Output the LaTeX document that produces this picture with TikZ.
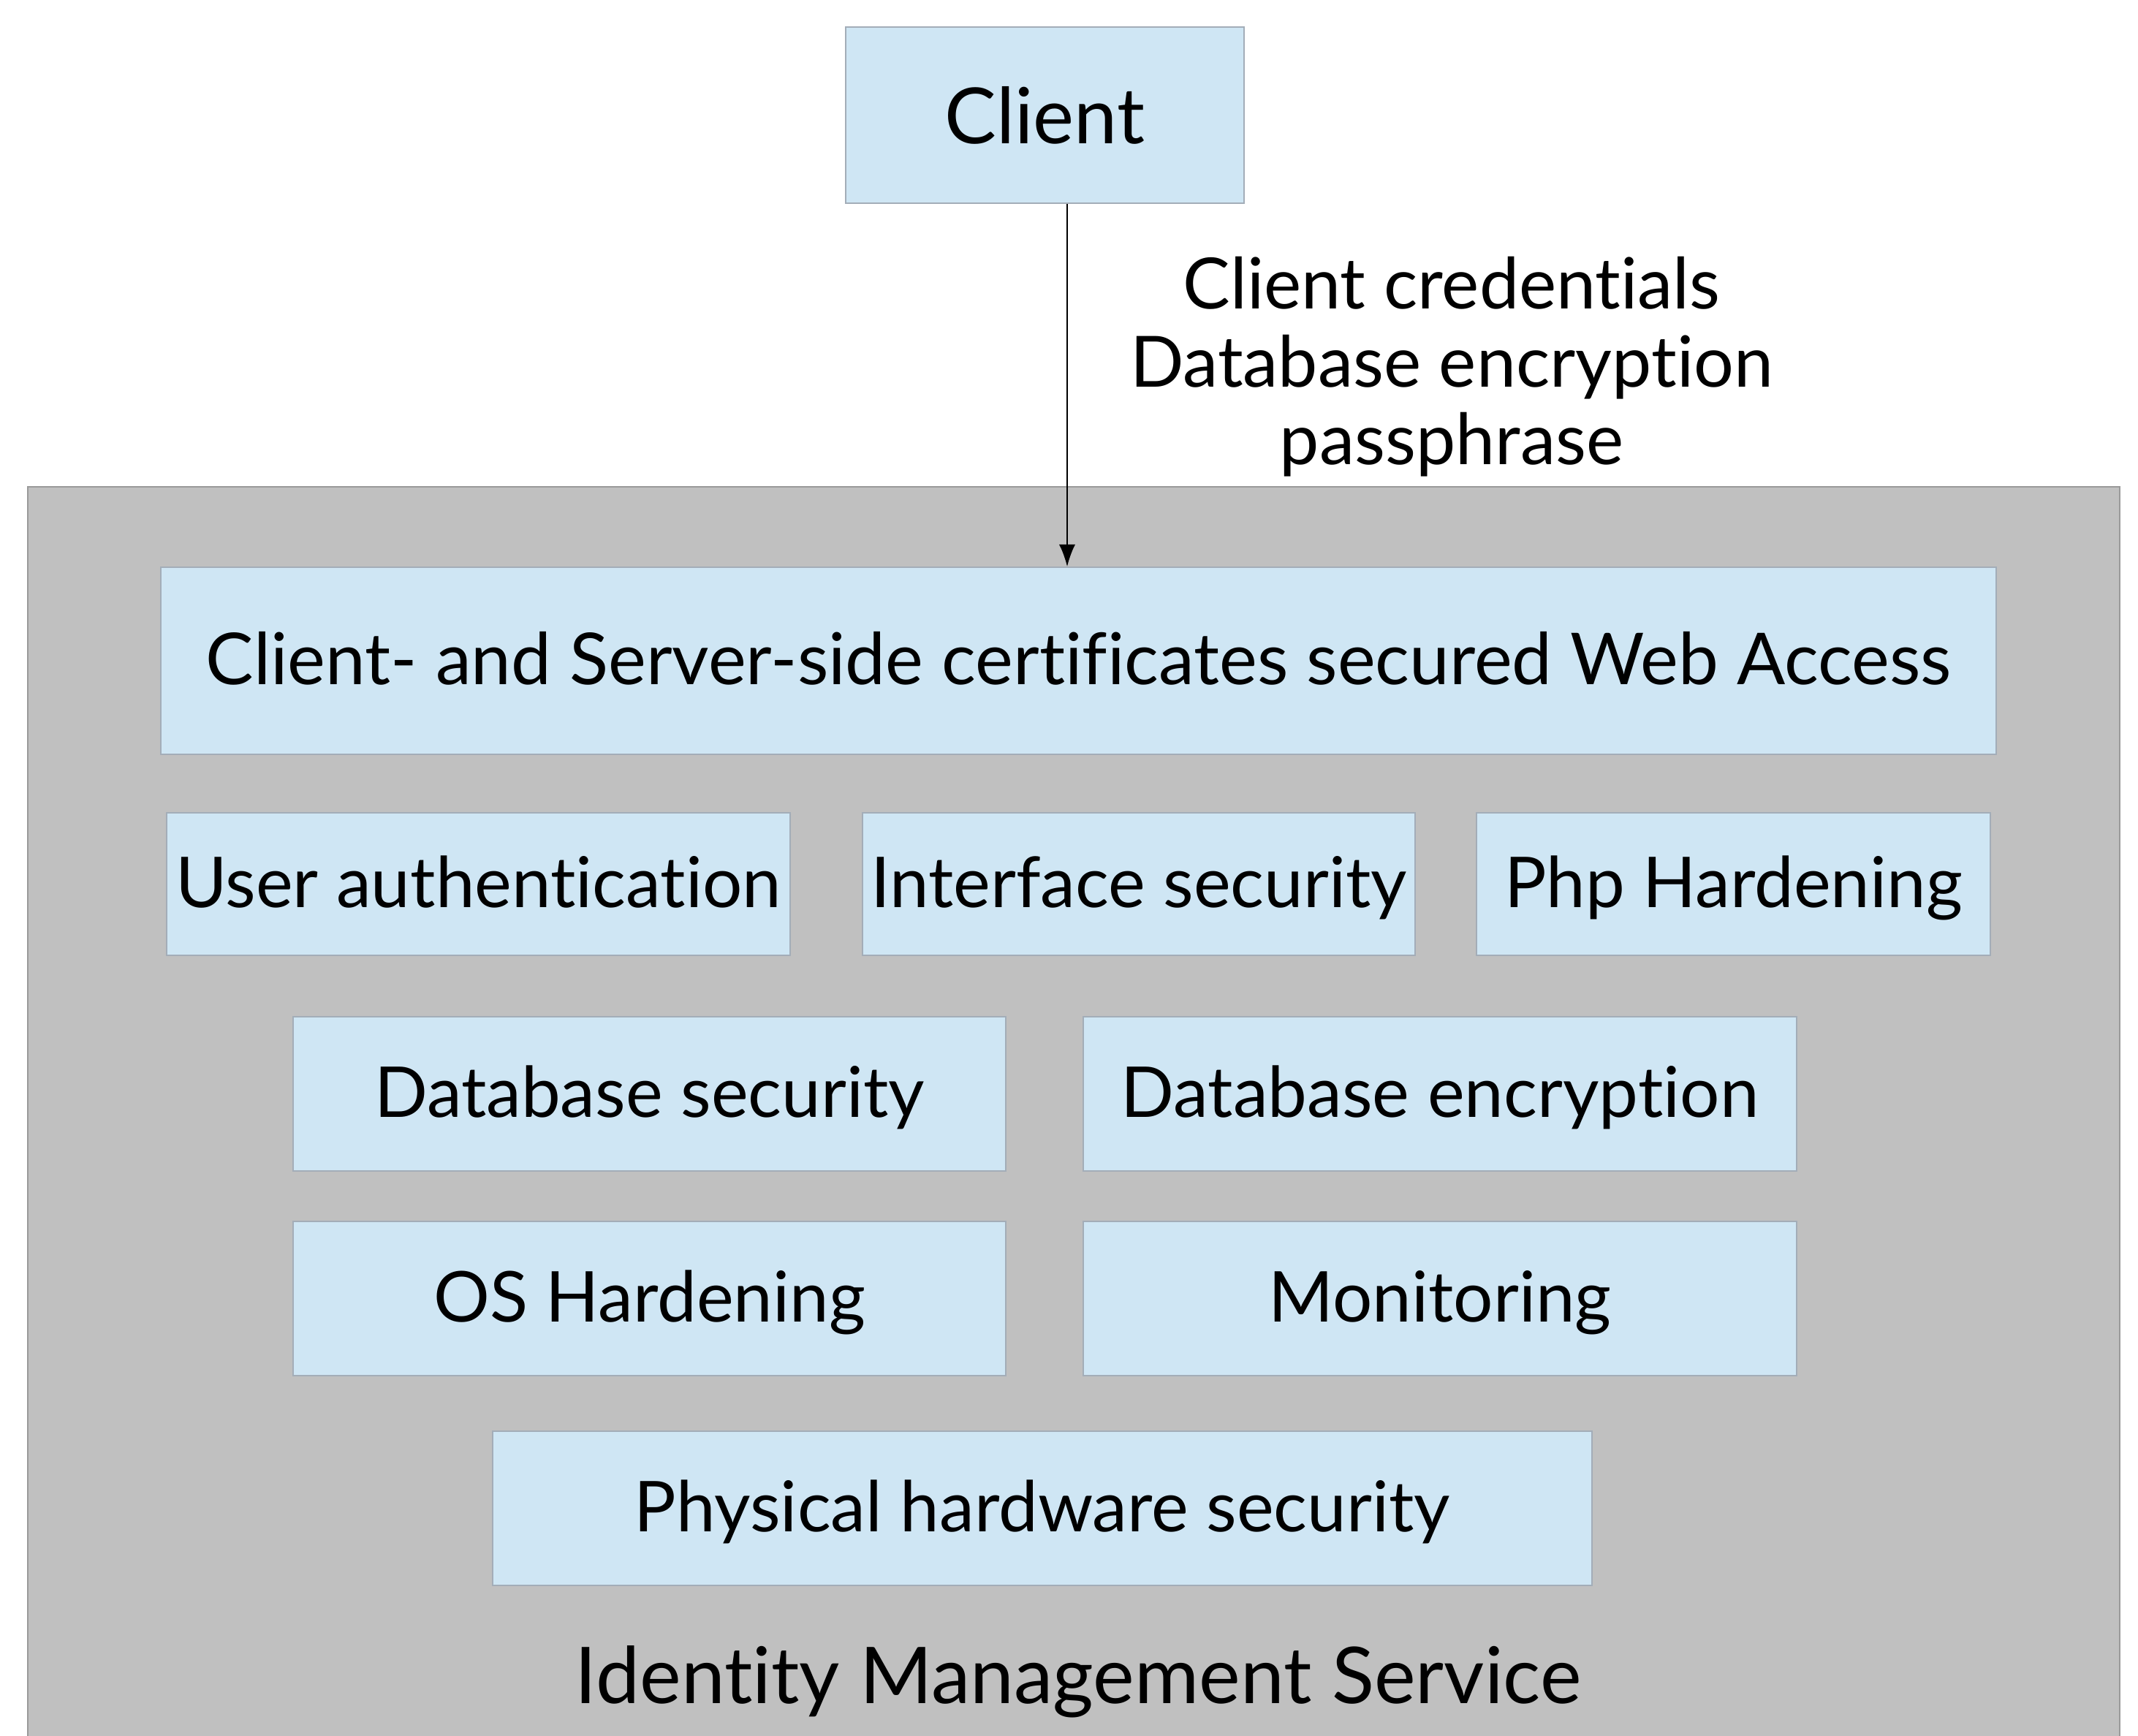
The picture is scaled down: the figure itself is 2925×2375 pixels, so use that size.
\documentclass[tikz,border=0pt]{standalone}
\usepackage{fontspec}
\setmainfont{Lato}[Ligatures={NoCommon,NoRare}]
\usetikzlibrary{arrows.meta}
\definecolor{boxfill}{HTML}{CFE6F4}
\definecolor{boxline}{HTML}{A3ADB8}
\definecolor{contfill}{HTML}{C0C0C0}
\definecolor{contline}{HTML}{9A9A9A}
\tikzset{
  secbox/.style={draw=boxline, fill=boxfill, line width=0.5pt, inner sep=0pt,
    font=\fontsize{24}{28}\selectfont, text=black, text height=20pt, text depth=4pt},
}
\newcommand{\bx}[6]{\node[secbox, minimum width=#4*0.25pt, minimum height=#5*0.25pt] (#1) at (#2,#3) {#6};}
\begin{document}
\begin{tikzpicture}[x=0.25pt,y=-0.25pt]
\useasboundingbox (0,0) rectangle (2925,2375);
\fill[white] (0,0) rectangle (2925,2375);
\node[draw=contline, fill=contfill, line width=0.5pt, inner sep=0pt, minimum width=2862*0.25pt, minimum height=1760*0.25pt, anchor=north west] (cont) at (37,665) {};
\node[secbox, minimum width=545*0.25pt, minimum height=241*0.25pt, font=\fontsize{26.5}{30}\selectfont, text height=19.5pt, text depth=0pt] (client) at (1429.5,157.5) {Client};
\node[secbox, minimum width=2511*0.25pt, minimum height=256*0.25pt, font=\fontsize{24.5}{28}\selectfont] (web) at (1475.5,904) {Client- and Server-side certificates secured Web Access};
\bx{ua}{654.5}{1209.5}{853}{195}{User authentication}
\bx{is}{1558}{1209.5}{756}{195}{Interface security}
\bx{ph}{2371.5}{1209.5}{703}{195}{Php Hardening}
\bx{ds}{888.5}{1496.5}{975}{211}{Database security}
\bx{de}{1970}{1496.5}{976}{211}{Database encryption}
\bx{os}{888.5}{1776.5}{975}{211}{OS Hardening}
\bx{mon}{1970}{1776.5}{976}{211}{Monitoring}
\bx{phys}{1426}{2063.5}{1504}{211}{Physical hardware security}
\node[font=\fontsize{26.8}{30}\selectfont, inner sep=0pt] (ims) at (1475,2301) {Identity Management Service};
\node[font=\fontsize{24.2}{26.6}\selectfont, align=center, inner sep=0pt] (lbl) at (1986,502) {Client credentials\\Database encryption\\passphrase};
\coordinate (ax) at (1460,0);
\draw[line width=0.45pt, -{Latex[length=7.5pt,width=5.5pt]}] (client.south -| ax) -- (web.north -| ax);
\end{tikzpicture}
\end{document}
